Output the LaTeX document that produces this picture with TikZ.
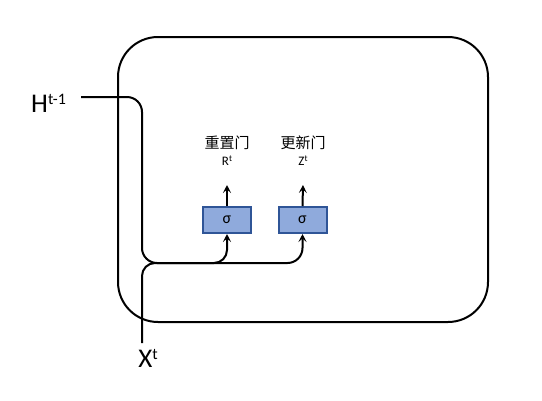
\documentclass[tikz,border=0pt]{standalone}
\usepackage{fontspec}
\setmainfont{Carlito}
\newfontfamily\cjk{Noto Sans CJK SC}
\usetikzlibrary{arrows.meta}
\definecolor{boxfill}{HTML}{8FAADC}
\definecolor{boxline}{HTML}{2F5597}
\begin{document}
\begin{tikzpicture}[x=1pt,y=-1pt,
  conn/.style={draw=black,line width=2pt},
  arr/.style={-{Stealth[length=8pt,width=8pt,inset=3.5pt]}},
  sigbox/.style={draw=boxline,fill=boxfill,line width=2pt,minimum width=48pt,minimum height=26pt,inner sep=0pt,font=\fontsize{16}{16}\selectfont},
  gate/.style={inner sep=0pt,font=\cjk\fontsize{15}{15}\selectfont},
  sym/.style={inner sep=0pt,font=\fontsize{13}{13}\selectfont},
  big/.style={inner sep=0pt,font=\fontsize{27}{27}\selectfont}]
\useasboundingbox (0,0) rectangle (542,400);
\draw[line width=2pt,rounded corners=40pt] (118,37) rectangle (488,322);
\node[sigbox] (s1) at (227,220) {σ};
\node[sigbox] (s2) at (302.5,220) {σ};
\node[sym] (r) at (227,161) {R\raisebox{4pt}{\fontsize{9}{9}\selectfont t}};
\node[sym] (z) at (303,161) {Z\raisebox{4pt}{\fontsize{9}{9}\selectfont t}};
\node[gate] (g1) at (227,143) {重置门};
\node[gate] (g2) at (303,143) {更新门};
\node[big,anchor=west] (h) at (31,103) {H\raisebox{8pt}{\fontsize{16}{16}\selectfont t-1}};
\node[big] (x) at (148,358) {X\raisebox{8pt}{\fontsize{16}{16}\selectfont t}};
\coordinate (hin) at (81,97);
\coordinate (xin) at (142,343);
\coordinate (j) at (142,263);
\coordinate (t1) at (227,185);
\coordinate (t2) at (303,185);
\draw[conn,arr,rounded corners=15pt] (hin) -| (j) -- (s2.south |- j) -- (s2.south);
\draw[conn,arr,rounded corners=13pt] (xin) |- (s1.south |- j) -- (s1.south);
\draw[conn,arr] (s1.north) -- (t1);
\draw[conn,arr] (s2.north) -- (t2);
\end{tikzpicture}
\end{document}
